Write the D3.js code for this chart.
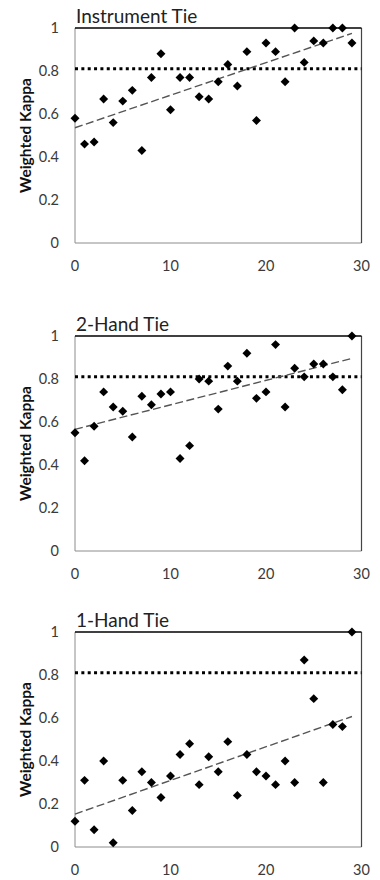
<!DOCTYPE html>
<html>
<head>
<meta charset="utf-8">
<script src="https://cdn.jsdelivr.net/npm/d3@7"></script>
<style>
  body { margin: 0; background: #fff; }
  svg { display: block; }
  .tick-label { font-family: Lato, "Open Sans", sans-serif; font-size: 14.5px; fill: #3a3a3a; }
  .panel-title { font-family: Lato, "Open Sans", sans-serif; font-size: 19px; fill: #222; }
  .y-title { font-family: Lato, "Open Sans", sans-serif; font-size: 15.5px; font-weight: bold; fill: #111; }
</style>
</head>
<body>
<svg id="chart" width="380" height="880"></svg>
<script>
// trial index on the x axis
const trials = [0, 1, 2, 3, 4, 5, 6, 7, 8, 9, 10, 11, 12, 13, 14, 15, 16, 17, 18, 19, 20, 21, 22, 23, 24, 25, 26, 27, 28, 29];

const panelTitles = ['Instrument Tie', '2-Hand Tie', '1-Hand Tie'];

// weighted kappa per trial
const instrumentTie = [0.58, 0.46, 0.47, 0.67, 0.56, 0.66, 0.71, 0.43, 0.77, 0.88,
                       0.62, 0.77, 0.77, 0.68, 0.67, 0.75, 0.83, 0.73, 0.89, 0.57,
                       0.93, 0.89, 0.75, 1.00, 0.84, 0.94, 0.93, 1.00, 1.00, 0.93];
const twoHandTie    = [0.55, 0.42, 0.58, 0.74, 0.67, 0.65, 0.53, 0.72, 0.68, 0.73,
                       0.74, 0.43, 0.49, 0.80, 0.79, 0.66, 0.86, 0.79, 0.92, 0.71,
                       0.74, 0.96, 0.67, 0.85, 0.81, 0.87, 0.87, 0.81, 0.75, 1.00];
const oneHandTie    = [0.12, 0.31, 0.08, 0.40, 0.02, 0.31, 0.17, 0.35, 0.30, 0.23,
                       0.33, 0.43, 0.48, 0.29, 0.42, 0.35, 0.49, 0.24, 0.43, 0.35,
                       0.33, 0.29, 0.40, 0.30, 0.87, 0.69, 0.30, 0.57, 0.56, 1.00];

// linear trend lines: value at first and last trial
const trendInstrument = [0.536, 0.975];
const trendTwoHand    = [0.566, 0.896];
const trendOneHand    = [0.153, 0.607];

const thresholdKappa = 0.81;

const xTicks = [0, 10, 20, 30];
const yTicks = [0, 0.2, 0.4, 0.6, 0.8, 1];

const series = [instrumentTie, twoHandTie, oneHandTie];
const trends = [trendInstrument, trendTwoHand, trendOneHand];

// layout
const panelTops = [28, 336, 632];
const plotLeft = 75, plotRight = 361.5, plotHeight = 215;

const svg = d3.select('#chart');

// excel-style square diamond marker
const diamond = {
    draw(ctx, size) {
        const r = Math.sqrt(size / 2);
        ctx.moveTo(0, -r);
        ctx.lineTo(r, 0);
        ctx.lineTo(0, r);
        ctx.lineTo(-r, 0);
        ctx.closePath();
    }
};

const x = d3.scaleLinear().domain([0, 30]).range([plotLeft, plotRight]);

panelTitles.forEach((title, i) => {
    const top = panelTops[i];
    const y = d3.scaleLinear().domain([0, 1]).range([top + plotHeight, top]);
    const g = svg.append('g').attr('class', 'panel');

    // plot frame
    g.append('line')
        .attr('x1', plotLeft).attr('x2', plotLeft)
        .attr('y1', y(0)).attr('y2', y(1))
        .attr('stroke', '#8c8c8c').attr('stroke-width', 1);
    g.append('line')
        .attr('x1', plotLeft).attr('x2', plotRight)
        .attr('y1', y(0)).attr('y2', y(0))
        .attr('stroke', '#8c8c8c').attr('stroke-width', 1);
    g.append('line')
        .attr('x1', plotRight).attr('x2', plotRight)
        .attr('y1', y(0)).attr('y2', y(1))
        .attr('stroke', '#444').attr('stroke-width', 1.2);
    g.append('line')
        .attr('x1', plotLeft).attr('x2', plotRight)
        .attr('y1', y(1)).attr('y2', y(1))
        .attr('stroke', '#000').attr('stroke-width', 1.6);

    // tick labels
    g.selectAll('.ytl').data(yTicks).enter().append('text')
        .attr('class', 'tick-label')
        .attr('x', 59)
        .attr('y', d => y(d) + 5)
        .attr('text-anchor', 'end')
        .text(d => d3.format('~g')(d));

    g.selectAll('.xtl').data(xTicks).enter().append('text')
        .attr('class', 'tick-label')
        .attr('x', d => x(d))
        .attr('y', y(0) + 28)
        .attr('text-anchor', 'middle')
        .text(d => d);

    // titles
    g.append('text')
        .attr('class', 'panel-title')
        .attr('x', plotLeft + 1)
        .attr('y', top - 5)
        .text(title);

    g.append('text')
        .attr('class', 'y-title')
        .attr('transform', `translate(31,${top + plotHeight / 2}) rotate(-90)`)
        .attr('text-anchor', 'middle')
        .text('Weighted Kappa');

    // threshold
    g.append('line')
        .attr('x1', plotLeft).attr('x2', plotRight)
        .attr('y1', y(thresholdKappa)).attr('y2', y(thresholdKappa))
        .attr('stroke', '#000').attr('stroke-width', 3)
        .attr('stroke-dasharray', '3,3.35');

    // trend line
    const tr = trends[i];
    g.append('line')
        .attr('x1', x(trials[0])).attr('y1', y(tr[0]))
        .attr('x2', x(trials[trials.length - 1])).attr('y2', y(tr[1]))
        .attr('stroke', '#555').attr('stroke-width', 1.4)
        .attr('stroke-dasharray', '8,3.5');

    // points
    g.selectAll('.pt').data(series[i]).enter().append('path')
        .attr('class', 'pt')
        .attr('transform', (d, j) => `translate(${x(trials[j])},${y(d)})`)
        .attr('d', d3.symbol().type(diamond).size(40))
        .attr('fill', '#000');
});
</script>
</body>
</html>
